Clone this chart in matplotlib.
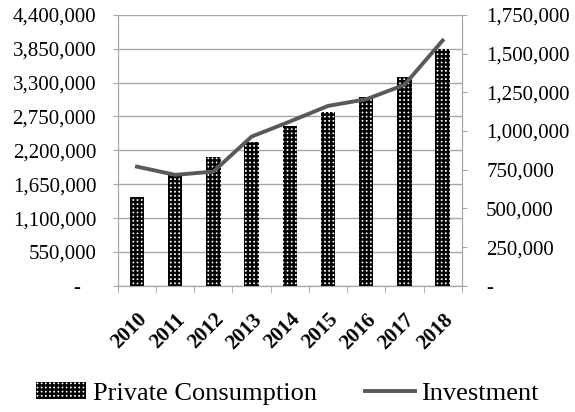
import matplotlib.pyplot as plt
import numpy as np
from matplotlib.lines import Line2D
from matplotlib.patches import Patch

plt.rcParams['font.family'] = ['Liberation Serif', 'DejaVu Serif']
plt.rcParams['hatch.linewidth'] = 1.7

# DADOS
anos = ['2010', '2011', '2012', '2013', '2014', '2015', '2016', '2017', '2018']
consumo_privado = [1440000, 1840000, 2100000, 2340000, 2590000, 2830000, 3070000, 3390000, 3840000]
investimento = [770000, 717000, 738000, 964000, 1061000, 1162000, 1205000, 1298000, 1584000]

esq_ticks = [0, 550000, 1100000, 1650000, 2200000, 2750000, 3300000, 3850000, 4400000]
dir_ticks = [0, 250000, 500000, 750000, 1000000, 1250000, 1500000, 1750000]


def fmt(v, zero='-'):
    return zero if v == 0 else f'{v:,.0f}'


fig = plt.figure(figsize=(5.75, 4.12), dpi=100)
ax = fig.add_axes([0.205, 0.306, 0.598, 0.658])
x = np.arange(len(anos))

# BARRAS
ax.bar(x, consumo_privado, width=0.38, color='white', edgecolor='black',
       hatch='++++', linewidth=0, zorder=3)
ax.set_ylim(0, 4400000)
ax.set_xlim(-0.5, len(anos) - 0.5)
ax.set_yticks(esq_ticks)
ax.set_yticklabels([fmt(v, '-   ') for v in esq_ticks], fontsize=15)
ax.yaxis.grid(True, color='#a6a6a6', linewidth=1, zorder=0)
ax.tick_params(axis='y', length=3.6, color='#a6a6a6', pad=12)

ax.set_xticks(x)
ax.set_xticklabels(anos, rotation=45, ha='right', rotation_mode='anchor',
                   fontsize=15, fontweight='bold')
ax.set_xticks(np.arange(-0.5, len(anos)), minor=True)
ax.tick_params(axis='x', which='major', length=0, pad=17)
ax.tick_params(axis='x', which='minor', length=5, color='#a6a6a6')

ax.spines['top'].set_visible(False)
for lado in ['left', 'right', 'bottom']:
    ax.spines[lado].set_color('#a6a6a6')

# LINHA (EIXO DIREITO)
ax2 = ax.twinx()
ax2.plot(x, investimento, color='#595959', linewidth=2.8, zorder=4)
ax2.set_ylim(0, 1750000)
ax2.set_yticks(dir_ticks)
ax2.set_yticklabels([fmt(v) for v in dir_ticks], fontsize=15)
ax2.tick_params(axis='y', length=3.6, color='#a6a6a6', pad=14)
ax2.spines['top'].set_visible(False)
for lado in ['left', 'right', 'bottom']:
    ax2.spines[lado].set_color('#a6a6a6')

# LEGENDA
handles = [Patch(facecolor='white', edgecolor='black', hatch='++++', linewidth=0),
           Line2D([0], [0], color='#595959', linewidth=2.8)]
fig.legend(handles, ['Private Consumption', 'Investment'], loc='center',
           bbox_to_anchor=(0.5, 0.045), ncol=2, frameon=False, fontsize=19,
           handlelength=1.9, handleheight=0.6, handletextpad=0.25, columnspacing=1.8)

plt.savefig('out.png', dpi=100)
